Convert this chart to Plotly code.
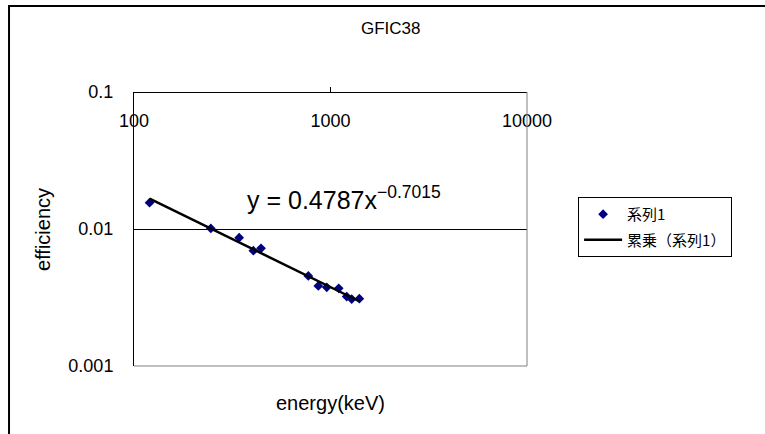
import numpy as np
import plotly.graph_objects as go

# ---- data ----
energy_kev = [120, 246, 343, 405, 443, 771, 867, 957, 1101, 1209, 1282, 1402]
efficiency = [0.01556, 0.0101, 0.00864, 0.00695, 0.00723, 0.00454,
              0.00384, 0.00375, 0.00369, 0.00321, 0.00308, 0.00310]

# power-law trend line shown in the chart: y = A * x^B
FIT_A = 0.4787
FIT_B = -0.7015

x_tick_vals = [100, 1000, 10000]
x_tick_text = ["100", "1000", "10000"]
y_tick_vals = [0.001, 0.01, 0.1]
y_tick_text = ["0.001", "0.01", "0.1"]

title_text = "GFIC38"
x_title = "energy(keV)"
y_title = "efficiency"
series_name = "系列1"
trend_name = "累乗（系列1）"
equation_text = "y = 0.4787x<sup>\u22120.7015</sup>"

# ---- derived ----
fit_x = np.array([min(energy_kev), max(energy_kev)], dtype=float)
fit_y = FIT_A * fit_x ** FIT_B

FONT = "Arial, 'Liberation Sans', 'Noto Sans CJK JP', sans-serif"

fig = go.Figure()
fig.add_trace(go.Scatter(
    x=energy_kev, y=efficiency, mode="markers", name=series_name,
    legendgroup="a",
    marker=dict(symbol="diamond", size=7.5, color="#000080",
                line=dict(width=0)),
))
fig.add_trace(go.Scatter(
    x=fit_x, y=fit_y, mode="lines", name=trend_name,
    legendgroup="b",
    line=dict(color="black", width=2.5),
))

fig.update_layout(
    width=765, height=434,
    margin=dict(l=134, r=238, t=92, b=68),
    paper_bgcolor="white", plot_bgcolor="white",
    font=dict(family=FONT, color="black"),
    showlegend=True,
    legend=dict(
        x=1.13, y=0.617, xanchor="left", yanchor="top",
        bgcolor="white", bordercolor="black", borderwidth=1,
        font=dict(size=15, family="'Noto Sans CJK JP', Arial, sans-serif"),
        itemwidth=38, tracegroupgap=3,
    ),
    xaxis=dict(
        type="log", range=[np.log10(x_tick_vals[0]), np.log10(x_tick_vals[-1])],
        anchor="free", position=1, side="bottom",
        showline=True, linecolor="black", linewidth=1,
        ticks="inside", ticklen=5, tickcolor="black",
        tickvals=x_tick_vals, ticktext=x_tick_text,
        tickfont=dict(size=18), ticklabelstandoff=12,
        showgrid=False, zeroline=False,
    ),
    yaxis=dict(
        type="log", range=[np.log10(y_tick_vals[0]), np.log10(y_tick_vals[-1])],
        showline=True, linecolor="black", linewidth=1,
        ticks="", tickvals=y_tick_vals, ticktext=y_tick_text,
        tickfont=dict(size=18), ticklabelstandoff=16,
        showgrid=True, gridcolor="black", gridwidth=1,
        zeroline=False,
    ),
    shapes=[
        # grey plot-area border: right and bottom edges
        dict(type="line", xref="paper", yref="paper", x0=1, x1=1, y0=0, y1=1,
             line=dict(color="#808080", width=1)),
        dict(type="line", xref="paper", yref="paper", x0=0, x1=1, y0=0, y1=0,
             line=dict(color="#808080", width=1)),
        # chart-area border
        dict(type="rect", xref="paper", yref="paper",
             x0=-0.318, x1=1.7, y0=-0.4, y1=1.314,
             line=dict(color="black", width=2)),
    ],
    annotations=[
        dict(text=title_text, xref="paper", yref="paper", x=0.654, y=1.23,
             showarrow=False, font=dict(size=17), xanchor="center", yanchor="middle"),
        dict(text=x_title, xref="paper", yref="paper", x=0.5, y=-0.135,
             showarrow=False, font=dict(size=20), xanchor="center", yanchor="middle"),
        dict(text=y_title, xref="paper", yref="paper", x=-0.2316, y=0.5,
             showarrow=False, font=dict(size=20), textangle=-90,
             xanchor="center", yanchor="middle"),
        dict(text=equation_text, xref="paper", yref="paper", x=0.2824, y=0.613,
             showarrow=False, font=dict(size=25), xanchor="left", yanchor="middle"),
    ],
)

fig.write_html("out.html", config={"displayModeBar": False},
               post_script="document.body.style.margin='0';")
